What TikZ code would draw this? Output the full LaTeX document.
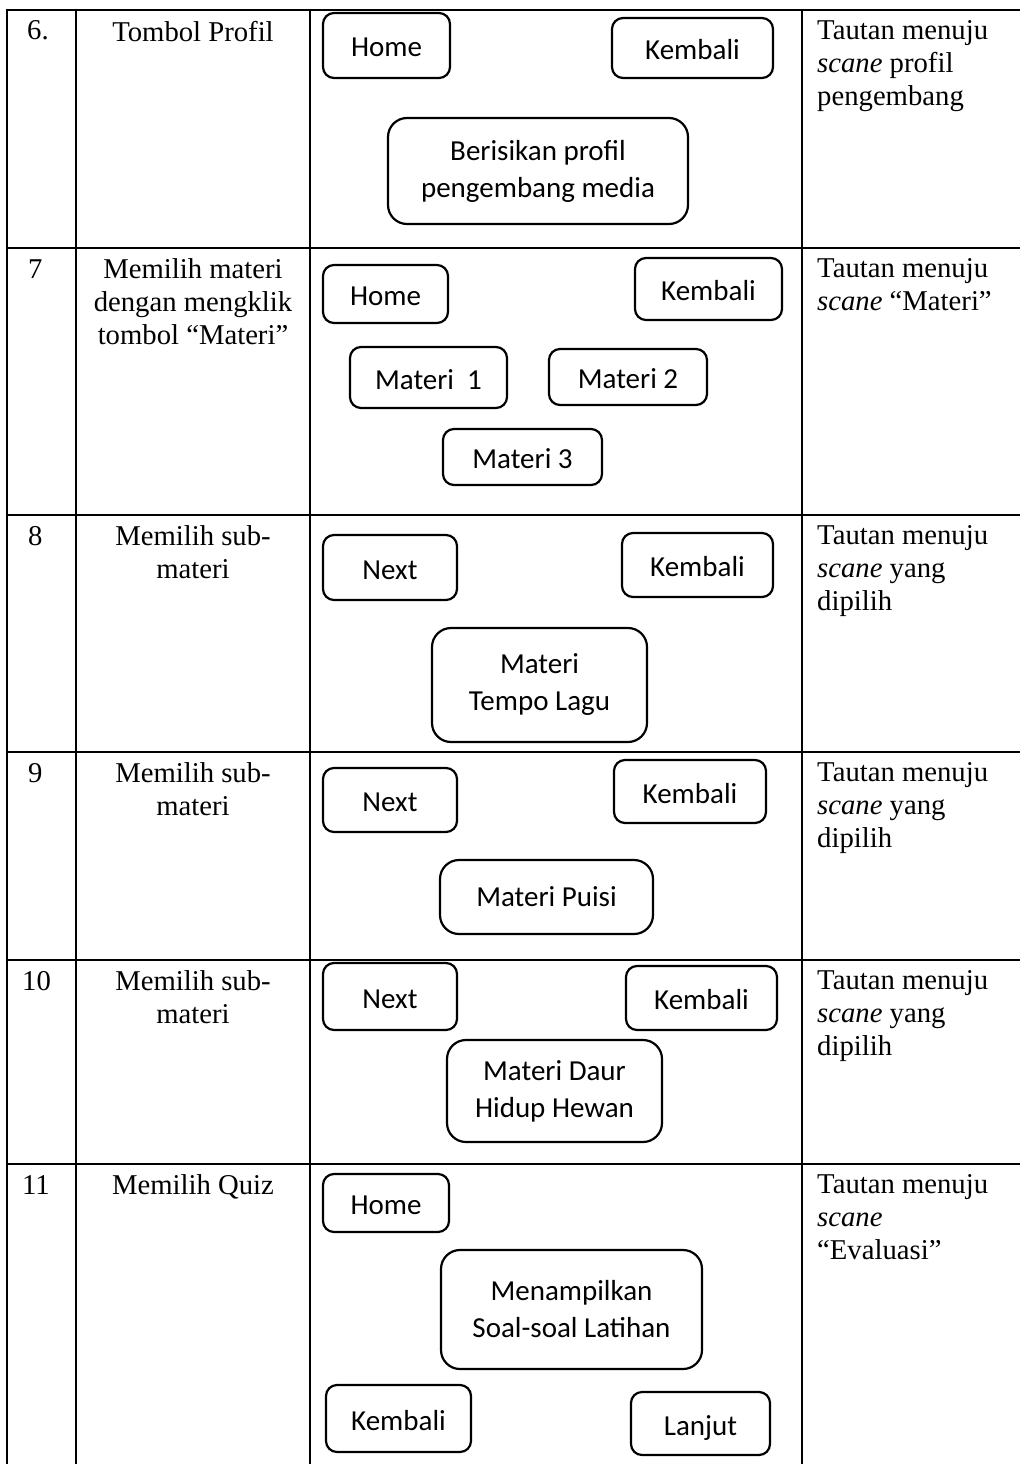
\documentclass[tikz,border=0pt]{standalone}
\usepackage{fontspec}
\setmainfont{Liberation Serif}
\newfontfamily\btnfont{Carlito}
\begin{document}
\begin{tikzpicture}[x=1pt,y=-1pt,
  grid/.style={line width=2.6pt},
  cell/.style={inner sep=0pt,font=\fontsize{28.7}{33}\selectfont},
  btn/.style={draw,line width=2.2pt,rounded corners=11pt,inner sep=0pt,align=center,
    font=\btnfont\fontsize{29}{37}\selectfont},
  onebtn/.style={btn,text height=23.5pt,text depth=0.5pt},
  bigbtn/.style={btn,rounded corners=19pt}]
\useasboundingbox (0,0) rectangle (1020,1464);

% table rules
\foreach \t in {10,248,515,752,960,1164}
  \draw[grid] (5.7,\t) -- (1020,\t);
\foreach \c in {7,76,310,802}
  \draw[grid] (\c,8.7) -- (\c,1464);

% row numbers
\node[cell,anchor=base west] (no6) at (27,40) {6.};
\node[cell,anchor=base west] (no7) at (28,278) {7};
\node[cell,anchor=base west] (no8) at (28,545) {8};
\node[cell,anchor=base west] (no9) at (28,782) {9};
\node[cell,anchor=base west] (no10) at (22,990) {10};
\node[cell,anchor=base west] (no11) at (22,1194) {11};

% actions
\node[cell,anchor=north,align=center] (act6) at (193,20.7) {Tombol Profil};
\node[cell,anchor=north,align=center] (act7) at (193,258.7) {Memilih materi\\dengan mengklik\\tombol “Materi”};
\node[cell,anchor=north,align=center] (act8) at (193,525.7) {Memilih sub-\\materi};
\node[cell,anchor=north,align=center] (act9) at (193,762.7) {Memilih sub-\\materi};
\node[cell,anchor=north,align=center] (act10) at (193,970.7) {Memilih sub-\\materi};
\node[cell,anchor=north,align=center] (act11) at (193,1174.7) {Memilih Quiz};

% results
\node[cell,anchor=north west,align=left] (res6) at (817,20.7) {Tautan menuju\\\textit{scane} profil\\pengembang};
\node[cell,anchor=north west,align=left] (res7) at (817,258.7) {Tautan menuju\\\textit{scane} “Materi”};
\node[cell,anchor=north west,align=left] (res8) at (817,525.7) {Tautan menuju\\\textit{scane} yang\\dipilih};
\node[cell,anchor=north west,align=left] (res9) at (817,762.7) {Tautan menuju\\\textit{scane} yang\\dipilih};
\node[cell,anchor=north west,align=left] (res10) at (817,970.7) {Tautan menuju\\\textit{scane} yang\\dipilih};
\node[cell,anchor=north west,align=left] (res11) at (817,1174.7) {Tautan menuju\\\textit{scane}\\“Evaluasi”};

% scene 6: profile
\node[onebtn,minimum width=127pt,minimum height=65pt] (home6) at (386.5,45.5) {Home};
\node[onebtn,minimum width=161pt,minimum height=60pt] (back6) at (692.5,48) {Kembali};
\node[bigbtn,minimum width=300pt,minimum height=106pt] (prof6) at (538,171) {Berisikan profil\\pengembang media};

% scene 7: material menu
\node[onebtn,minimum width=125pt,minimum height=58pt] (home7) at (385.5,294) {Home};
\node[onebtn,minimum width=147pt,minimum height=62pt] (back7) at (708.5,289) {Kembali};
\node[onebtn,minimum width=157pt,minimum height=61pt] (mat1) at (428.5,377.5) {Materi\ \ 1};
\node[onebtn,minimum width=158pt,minimum height=56pt] (mat2) at (628,377) {Materi 2};
\node[onebtn,minimum width=159pt,minimum height=56pt] (mat3) at (522.5,457) {Materi 3};

% scene 8
\node[onebtn,minimum width=134pt,minimum height=65pt] (next8) at (390,567.5) {Next};
\node[onebtn,minimum width=151pt,minimum height=64pt] (back8) at (697.5,565) {Kembali};
\node[bigbtn,minimum width=215pt,minimum height=114pt] (tempo8) at (539.5,685) {Materi\\Tempo Lagu};

% scene 9
\node[onebtn,minimum width=134pt,minimum height=64pt] (next9) at (390,800) {Next};
\node[onebtn,minimum width=152pt,minimum height=63pt] (back9) at (690,791.5) {Kembali};
\node[bigbtn,minimum width=213pt,minimum height=74pt] (puisi9) at (546.5,897) {Materi Puisi};

% scene 10
\node[onebtn,minimum width=134pt,minimum height=67pt] (next10) at (390,996.5) {Next};
\node[onebtn,minimum width=151pt,minimum height=64pt] (back10) at (701.5,998) {Kembali};
\node[bigbtn,minimum width=215pt,minimum height=102pt] (daur10) at (554.5,1091) {Materi Daur\\Hidup Hewan};

% scene 11: quiz
\node[onebtn,minimum width=126pt,minimum height=58pt] (home11) at (386,1203) {Home};
\node[bigbtn,minimum width=261pt,minimum height=119pt] (quiz11) at (571.5,1309.5) {Menampilkan\\Soal-soal Latihan};
\node[onebtn,minimum width=145pt,minimum height=67pt] (back11) at (398.5,1418.5) {Kembali};
\node[onebtn,minimum width=139pt,minimum height=63pt] (next11) at (700.5,1423.5) {Lanjut};
\end{tikzpicture}
\end{document}
